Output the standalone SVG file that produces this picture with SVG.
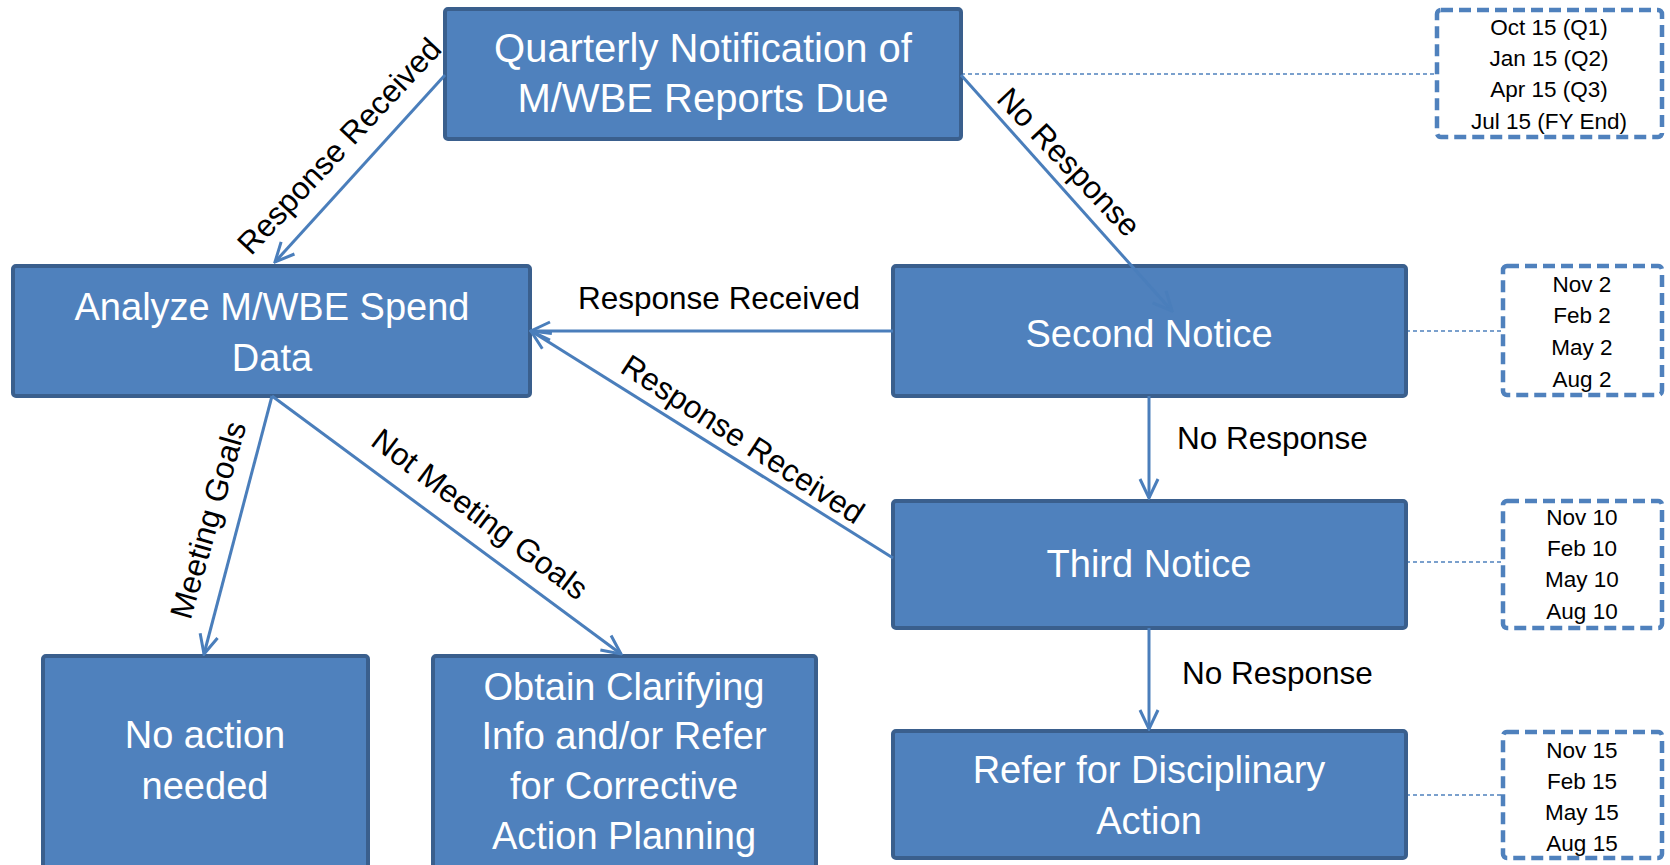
<svg xmlns="http://www.w3.org/2000/svg" width="1670" height="865" viewBox="0 0 1670 865">
<style>
.node rect{fill:#4F81BD;stroke:#3A5F8D;stroke-width:4}
.node text{fill:#fff;font-family:"Liberation Sans",Arial,sans-serif;font-size:38px;text-anchor:middle}
.date rect{fill:#fff;stroke:#4F81BD;stroke-width:4.5;stroke-dasharray:12 6}
.date text{fill:#000;font-family:"Liberation Sans",Arial,sans-serif;font-size:22.5px;text-anchor:middle}
.dot{stroke:#4F81BD;stroke-width:1.6;stroke-dasharray:4 3;fill:none}
.edge{stroke:#4A7EBB;stroke-width:3;fill:none;marker-end:url(#arr)}
.lbl{fill:#000;font-family:"Liberation Sans",Arial,sans-serif;font-size:31.5px;text-anchor:middle}
</style>
<defs>
<marker id="arr" markerUnits="userSpaceOnUse" markerWidth="24" markerHeight="24" viewBox="0 0 24 24" refX="22" refY="12" orient="auto">
<path d="M3,3 L22,12 L3,21" fill="none" stroke="#4A7EBB" stroke-width="3"/>
</marker>
</defs>
<rect width="1670" height="865" fill="#fff"/>
<g id="dotted">
<path class="dot" d="M961,74 H1436"/>
<path class="dot" d="M1406,331 H1502"/>
<path class="dot" d="M1406,562 H1502"/>
<path class="dot" d="M1406,795 H1502"/>
</g>
<g id="n-quarterly" class="node"><rect x="445" y="9" width="516" height="130" rx="3"/><text x="703" y="62" style="font-size:40px">Quarterly Notification of</text><text x="703" y="112" style="font-size:40px">M/WBE Reports Due</text></g>
<g id="n-analyze" class="node"><rect x="13" y="266" width="517" height="130" rx="3"/><text x="272" y="320">Analyze M/WBE Spend</text><text x="272" y="371">Data</text></g>
<g id="n-second" class="node"><rect x="893" y="266" width="513" height="130" rx="3"/><text x="1149" y="347">Second Notice</text></g>
<g id="n-third" class="node"><rect x="893" y="501" width="513" height="127" rx="3"/><text x="1149" y="577">Third Notice</text></g>
<g id="n-refer" class="node"><rect x="893" y="731" width="513" height="127" rx="3"/><text x="1149" y="783">Refer for Disciplinary</text><text x="1149" y="834">Action</text></g>
<g id="n-noaction" class="node"><rect x="43" y="656" width="325" height="220" rx="3"/><text x="205" y="748">No action</text><text x="205" y="799">needed</text></g>
<g id="n-obtain" class="node"><rect x="433" y="656" width="383" height="220" rx="3"/><text x="624" y="700">Obtain Clarifying</text><text x="624" y="749">Info and/or Refer</text><text x="624" y="799">for Corrective</text><text x="624" y="849">Action Planning</text></g>
<g id="d-quarterly" class="date"><rect x="1437" y="10" width="225" height="127" rx="4"/><text x="1549" y="35">Oct 15 (Q1)</text><text x="1549" y="66">Jan 15 (Q2)</text><text x="1549" y="97">Apr 15 (Q3)</text><text x="1549" y="129">Jul 15 (FY End)</text></g>
<g id="d-second" class="date"><rect x="1503" y="266" width="159" height="129" rx="4"/><text x="1582" y="292">Nov 2</text><text x="1582" y="323">Feb 2</text><text x="1582" y="355">May 2</text><text x="1582" y="387">Aug 2</text></g>
<g id="d-third" class="date"><rect x="1503" y="501" width="159" height="127" rx="4"/><text x="1582" y="525">Nov 10</text><text x="1582" y="556">Feb 10</text><text x="1582" y="587">May 10</text><text x="1582" y="619">Aug 10</text></g>
<g id="d-refer" class="date"><rect x="1503" y="732" width="159" height="126" rx="4"/><text x="1582" y="758">Nov 15</text><text x="1582" y="789">Feb 15</text><text x="1582" y="820">May 15</text><text x="1582" y="851">Aug 15</text></g>
<g id="connectors">
<path class="edge" d="M445,75 L275,262"/>
<path class="edge" d="M961,75 L1172,311"/>
<path class="edge" d="M893,331 L531,331"/>
<path class="edge" d="M893,558 L531,331"/>
<path class="edge" d="M1149,396 L1149,498"/>
<path class="edge" d="M1149,628 L1149,729"/>
<path class="edge" d="M272,396 L204,654"/>
<path class="edge" d="M272,396 L621,654"/>
<text class="lbl" transform="translate(339,146) rotate(-47)" y="11">Response Received</text>
<text class="lbl" transform="translate(1069,162) rotate(46.5)" y="11">No Response</text>
<text class="lbl" x="719" y="309">Response Received</text>
<text class="lbl" transform="translate(743,439) rotate(33)" y="11">Response Received</text>
<text class="lbl" x="1177" y="449" style="text-anchor:start">No Response</text>
<text class="lbl" x="1182" y="684" style="text-anchor:start">No Response</text>
<text class="lbl" transform="translate(208,520) rotate(-74)" y="11">Meeting Goals</text>
<text class="lbl" transform="translate(480,514) rotate(37)" y="11">Not Meeting Goals</text>
</g>
</svg>
